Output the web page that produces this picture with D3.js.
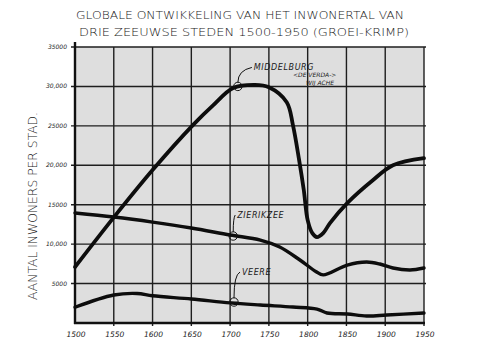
<!DOCTYPE html>
<html>
<head>
<meta charset="utf-8">
<script src="https://cdn.jsdelivr.net/npm/d3@7"></script>
<style>
  html, body { margin: 0; padding: 0; background: #ffffff; }
  svg { display: block; }
  text { font-family: "DejaVu Sans", "Liberation Sans", sans-serif; fill: #1a1a1a; }
</style>
</head>
<body>
<script>
// ---- data ----
const titleLines = ["GLOBALE ONTWIKKELING VAN HET INWONERTAL VAN", "DRIE ZEEUWSE STEDEN  1500-1950 (GROEI-KRIMP)"];
const yAxisTitle = "AANTAL INWONERS PER STAD.";
const xTickValues = [1500, 1550, 1600, 1650, 1700, 1750, 1800, 1850, 1900, 1950];
const xTickLabels = ["1500", "1550", "1600", "1650", "1700", "1750", "1800", "1850", "1900", "1950"];
const yTickValues = [5000, 10000, 15000, 20000, 25000, 30000, 35000];
const yTickLabels = ["5000", "10,000", "15000", "20,000", "25000", "30,000", "35000"];

const middelburgYears  = [1500, 1550, 1600, 1652, 1678, 1704, 1732, 1750, 1773, 1781, 1789, 1795, 1800, 1806, 1812, 1820, 1829, 1851, 1884, 1910, 1950];
const middelburgValues = [7100, 13400, 19400, 25100, 27600, 29800, 30200, 29900, 28000, 25100, 20660, 16860, 13050, 11400, 10900, 11400, 12700, 15200, 18100, 20000, 20900];

const zierikzeeYears  = [1500, 1550, 1600, 1650, 1700, 1739, 1764, 1790, 1811, 1820, 1851, 1876, 1893, 1910, 1932, 1950];
const zierikzeeValues = [13950, 13440, 12800, 12050, 11160, 10520, 9640, 7990, 6500, 6100, 7350, 7730, 7480, 6970, 6720, 6970];

const veereYears  = [1500, 1550, 1580, 1600, 1650, 1700, 1739, 1781, 1812, 1825, 1851, 1876, 1902, 1950];
const veereValues = [2000, 3550, 3750, 3450, 3050, 2550, 2280, 2030, 1770, 1270, 1140, 890, 1010, 1270];

const cityNames = ["MIDDELBURG", "ZIERIKZEE", "VEERE"];
const markerYears = [1710, 1704, 1705];
const markerValues = [30000, 11030, 2660];
const middelburgNote = ["<DE VERDA->", "WIJ ACHE"];

// ---- drawing ----
const W = 479, H = 346;
const svg = d3.select("body").append("svg").attr("width", W).attr("height", H);

const x = d3.scaleLinear().domain([1500, 1950]).range([75, 424]);
const y = d3.scaleLinear().domain([0, 35000]).range([323, 47]);

// plot background
svg.append("rect")
  .attr("x", x(1500)).attr("y", y(35000))
  .attr("width", x(1950) - x(1500)).attr("height", y(0) - y(35000))
  .attr("fill", "#dedede");

// grid lines
const grid = svg.append("g").attr("stroke", "#1e1e1e").attr("stroke-width", 1.4);
grid.selectAll("line.v").data(xTickValues.slice(1)).join("line")
  .attr("x1", d => x(d)).attr("x2", d => x(d))
  .attr("y1", y(35000)).attr("y2", y(0) + 3);
grid.selectAll("line.h").data(yTickValues).join("line")
  .attr("x1", x(1500) - 4).attr("x2", x(1950) + 2)
  .attr("y1", d => y(d)).attr("y2", d => y(d));

// axes frame
svg.append("line").attr("x1", x(1500)).attr("x2", x(1500))
  .attr("y1", y(35000) - 5).attr("y2", y(0) + 1)
  .attr("stroke", "#111").attr("stroke-width", 2.4);
svg.append("line").attr("x1", x(1500) - 1).attr("x2", x(1950) + 1)
  .attr("y1", y(0)).attr("y2", y(0))
  .attr("stroke", "#111").attr("stroke-width", 2.4);

// y tick labels
svg.append("g").selectAll("text").data(yTickValues).join("text")
  .attr("x", 67).attr("y", d => y(d) + 2)
  .attr("text-anchor", "end")
  .attr("font-size", 6)
  .attr("font-style", "italic")
  .text((d, i) => yTickLabels[i]);

// x tick labels
svg.append("g").selectAll("text").data(xTickValues).join("text")
  .attr("x", d => x(d) + 1).attr("y", 337)
  .attr("text-anchor", "middle")
  .attr("font-size", 7.5)
  .attr("font-style", "italic")
  .text((d, i) => xTickLabels[i]);

// title
svg.append("g").selectAll("text").data(titleLines).join("text")
  .attr("x", (d, i) => i === 0 ? 76 : 79)
  .attr("y", (d, i) => i === 0 ? 19 : 36)
  .attr("font-size", 10)
  .attr("font-weight", 200)
  .attr("textLength", (d, i) => i === 0 ? 328 : 330)
  .attr("lengthAdjust", "spacingAndGlyphs")
  .text(d => d);

// y axis title
svg.append("text")
  .attr("transform", "translate(37,206) rotate(-90)")
  .attr("text-anchor", "middle")
  .attr("font-size", 11.5)
  .attr("font-weight", 200)
  .attr("textLength", 188)
  .attr("lengthAdjust", "spacingAndGlyphs")
  .text(yAxisTitle);

// series lines
const line = d3.line()
  .x(d => x(d[0])).y(d => y(d[1]))
  .curve(d3.curveCatmullRom.alpha(0.5));
const series = [
  [middelburgYears, middelburgValues, 3.8],
  [zierikzeeYears, zierikzeeValues, 3.4],
  [veereYears, veereValues, 3.4]
];
svg.append("g").selectAll("path").data(series).join("path")
  .attr("d", s => line(d3.zip(s[0], s[1])))
  .attr("fill", "none")
  .attr("stroke", "#0d0d0d")
  .attr("stroke-width", s => s[2])
  .attr("stroke-linecap", "round")
  .attr("stroke-linejoin", "round");

// annotation markers and labels
const labelOffsets = [[16, -19], [4, -21], [8, -30]];
const ann = svg.append("g");
markerYears.forEach((yr, i) => {
  const cx = x(yr), cy = y(markerValues[i]);
  ann.append("circle").attr("cx", cx).attr("cy", cy).attr("r", 4.2)
    .attr("fill", "none").attr("stroke", "#111").attr("stroke-width", 1);
  ann.append("line").attr("x1", cx - 4).attr("x2", cx + 4).attr("y1", cy).attr("y2", cy)
    .attr("stroke", "#111").attr("stroke-width", 0.8);
  const [dx, dy] = labelOffsets[i];
  const path = d3.path();
  path.moveTo(cx, cy - 4);
  path.quadraticCurveTo(cx, cy + dy + 3, cx + dx - 2, cy + dy);
  ann.append("path").attr("d", path.toString())
    .attr("fill", "none").attr("stroke", "#111").attr("stroke-width", 1);
  ann.append("text").attr("x", cx + dx).attr("y", cy + dy + 3)
    .attr("font-size", 8)
    .attr("font-style", "italic")
    .attr("letter-spacing", 0.6)
    .text(cityNames[i]);
});
// extra note near Middelburg
svg.append("g").selectAll("text").data(middelburgNote).join("text")
  .attr("x", (d, i) => i === 0 ? 293 : 306)
  .attr("y", (d, i) => i === 0 ? 77 : 85)
  .attr("font-size", 6)
  .attr("font-style", "italic")
  .text(d => d);
</script>
</body>
</html>
